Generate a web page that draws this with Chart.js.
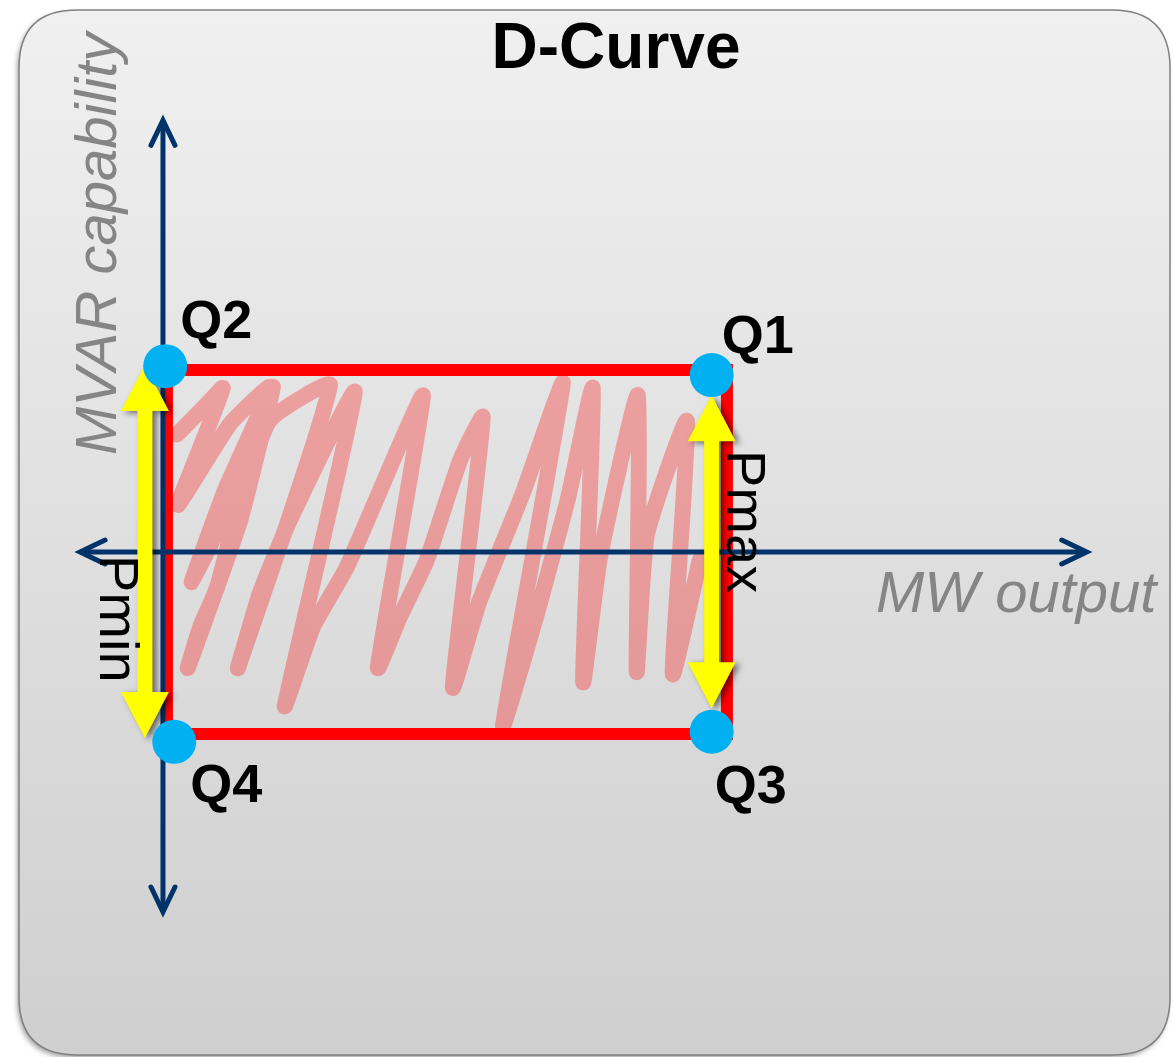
<!DOCTYPE html>
<html>
<head>
<meta charset="utf-8">
<title>D-Curve</title>
<script src="https://cdn.jsdelivr.net/npm/chart.js@4.4.1/dist/chart.umd.min.js"></script>
<style>
  html, body { margin: 0; padding: 0; background: #ffffff; }
  #wrap { width: 1173px; height: 1057px; }
</style>
</head>
<body>
<div id="wrap"><canvas id="myChart" width="1173" height="1057"></canvas></div>
<script>
// diagram values (MW on x, MVAR on y), origin at the axis crossing
const pMin = 0.07;
const pMax = 10.0;
const qMax = 3.25;
const qMin = -3.25;

const cornerLabels = ["Q1", "Q2", "Q3", "Q4"];
const cornerP = [9.73, 0.04, 9.73, 0.2];
const cornerQ = [3.16, 3.32, -3.21, -3.39];

// hand-drawn hatching inside the box
const scribbleP = [0.25, 0.75, 1.06, 0.66, 0.27, 1.19, 1.9, 1.11, 0.51, 1.38, 1.95, 1.37, 0.44,
  0.66, 0.96, 1.37, 1.9, 2.96, 1.33, 1.72, 2.25, 3.4, 2.16, 2.66, 3.26, 4.08, 4.61,
  3.81, 4.2, 4.68, 5.27, 5.67, 5.14, 5.6, 6.38, 7.09, 6.03, 6.6, 7.18, 7.62, 7.45, 7.75,
  8.42, 8.4, 8.58, 9.29, 9.04, 9.52];
const scribbleQ = [2.1, 2.61, 2.93, 1.86, 0.84, 2.29, 2.95, 1.13, -0.54, 1.28, 2.95, 0.57, -2.07,
  -1.34, -0.63, 0.93, 2.36, 2.98, -2.07, -0.73, 0.57, 2.86, -2.75, -1.34, -0.27, 1.64, 2.79,
  -2.07, -1.16, -0.14, 1.64, 2.41, -2.42, -0.91, 1.05, 3.02, -3.1, -1.21, 0.95, 2.93, -2.32, -0.09,
  2.8, -2.14, 0.3, 2.34, -2.18, -0.14];

const axisP = [-1.47, 16.38];
const axisQ = [7.71, -6.43];

const pminArrowP = -0.32;
const pminArrowQ = [3.34, -3.32];
const pmaxArrowP = 9.73;
const pmaxArrowQ = [2.8, -2.79];

const NAVY = "#00336a";
const FONT = "'Liberation Sans', Arial, sans-serif";

const pts = (xs, ys) => xs.map((x, i) => ({ x: x, y: ys[i] }));

function roundRect(ctx, x, y, w, h, r) {
  ctx.beginPath();
  ctx.moveTo(x + r, y);
  ctx.lineTo(x + w - r, y);
  ctx.quadraticCurveTo(x + w, y, x + w, y + r);
  ctx.lineTo(x + w, y + h - r);
  ctx.quadraticCurveTo(x + w, y + h, x + w - r, y + h);
  ctx.lineTo(x + r, y + h);
  ctx.quadraticCurveTo(x, y + h, x, y + h - r);
  ctx.lineTo(x, y + r);
  ctx.quadraticCurveTo(x, y, x + r, y);
  ctx.closePath();
}

function yellowArrow(ctx, px, top, bottom) {
  const head = 46, half = 24, shaft = 7.5;
  ctx.save();
  ctx.shadowColor = "rgba(0,0,0,0.55)";
  ctx.shadowBlur = 6;
  ctx.shadowOffsetX = 4;
  ctx.shadowOffsetY = 2;
  ctx.fillStyle = "#ffff00";
  ctx.beginPath();
  ctx.moveTo(px, top);
  ctx.lineTo(px + half, top + head);
  ctx.lineTo(px + shaft, top + head);
  ctx.lineTo(px + shaft, bottom - head);
  ctx.lineTo(px + half, bottom - head);
  ctx.lineTo(px, bottom);
  ctx.lineTo(px - half, bottom - head);
  ctx.lineTo(px - shaft, bottom - head);
  ctx.lineTo(px - shaft, top + head);
  ctx.lineTo(px - half, top + head);
  ctx.closePath();
  ctx.fill();
  ctx.restore();
}

function chevron(ctx, tx, ty, ax, ay, bx, by) {
  ctx.beginPath();
  ctx.moveTo(ax, ay);
  ctx.lineTo(tx, ty);
  ctx.lineTo(bx, by);
  ctx.stroke();
}

const diagramPlugin = {
  id: "diagram",
  beforeDatasetsDraw(chart) {
    const ctx = chart.ctx;
    ctx.save();
    ctx.fillStyle = "#ffffff";
    ctx.fillRect(0, 0, chart.width, chart.height);
    ctx.shadowColor = "rgba(0,0,0,0.35)";
    ctx.shadowBlur = 5;
    ctx.shadowOffsetX = -2;
    ctx.shadowOffsetY = 3;
    const g = ctx.createLinearGradient(0, 10, 0, 1055);
    g.addColorStop(0, "#f0f0f0");
    g.addColorStop(1, "#cfcfcf");
    roundRect(ctx, 19, 10, 1151, 1045, 58);
    ctx.fillStyle = g;
    ctx.fill();
    ctx.shadowColor = "transparent";
    ctx.strokeStyle = "#808080";
    ctx.lineWidth = 1.5;
    ctx.stroke();
    ctx.restore();
  },
  afterDatasetDraw(chart, args) {
    if (chart.data.datasets[args.index].label !== "Q axis") return;
    const ctx = chart.ctx;
    const xs = chart.scales.x, ys = chart.scales.y;
    const x0 = xs.getPixelForValue(0), y0 = ys.getPixelForValue(0);
    const left = xs.getPixelForValue(axisP[0]), right = xs.getPixelForValue(axisP[1]);
    const top = ys.getPixelForValue(axisQ[0]), bottom = ys.getPixelForValue(axisQ[1]);
    ctx.save();
    ctx.strokeStyle = NAVY;
    ctx.lineWidth = 5;
    ctx.lineCap = "round";
    ctx.lineJoin = "miter";
    chevron(ctx, x0, top, x0 - 12, top + 25, x0 + 12, top + 25);
    chevron(ctx, x0, bottom, x0 - 12, bottom - 25, x0 + 12, bottom - 25);
    chevron(ctx, left, y0, left + 25, y0 - 12, left + 25, y0 + 12);
    chevron(ctx, right, y0, right - 25, y0 - 12, right - 25, y0 + 12);
    ctx.restore();

    yellowArrow(ctx, xs.getPixelForValue(pminArrowP),
      ys.getPixelForValue(pminArrowQ[0]), ys.getPixelForValue(pminArrowQ[1]));
    yellowArrow(ctx, xs.getPixelForValue(pmaxArrowP),
      ys.getPixelForValue(pmaxArrowQ[0]), ys.getPixelForValue(pmaxArrowQ[1]));
  },
  afterDraw(chart) {
    const ctx = chart.ctx;
    const xs = chart.scales.x, ys = chart.scales.y;
    ctx.save();

    // title
    ctx.fillStyle = "#000000";
    ctx.textAlign = "center";
    ctx.textBaseline = "alphabetic";
    ctx.font = "bold 64px " + FONT;
    ctx.fillText("D-Curve", 616, 68);

    // corner labels
    const offsets = { Q1: [10, -22], Q2: [15, -28], Q3: [3, 71], Q4: [16, 60] };
    ctx.textAlign = "left";
    ctx.font = "bold 54px " + FONT;
    cornerLabels.forEach((lab, i) => {
      const px = xs.getPixelForValue(cornerP[i]);
      const py = ys.getPixelForValue(cornerQ[i]);
      ctx.fillText(lab, px + offsets[lab][0], py + offsets[lab][1]);
    });

    // Pmin / Pmax, rotated
    ctx.font = "56px " + FONT;
    ctx.save();
    ctx.translate(100, 555);
    ctx.rotate(Math.PI / 2);
    ctx.fillText("Pmin", 0, 0);
    ctx.restore();
    ctx.save();
    ctx.translate(727, 450);
    ctx.rotate(Math.PI / 2);
    ctx.fillText("Pmax", 0, 0);
    ctx.restore();

    // axis names
    ctx.fillStyle = "#858585";
    ctx.font = "italic 58px " + FONT;
    ctx.fillText("MW output", 876, 612);
    ctx.save();
    ctx.translate(116, 455);
    ctx.rotate(-Math.PI / 2);
    ctx.fillText("MVAR capability", 0, 0);
    ctx.restore();

    ctx.restore();
  },
};

const chartConfiguration = {
  type: "scatter",
  data: {
    datasets: [
      {
        label: "Corners",
        data: pts(cornerP, cornerQ),
        backgroundColor: "#00b0f0",
        borderWidth: 0,
        pointRadius: 22,
        order: 0,
      },
      {
        label: "Q axis",
        data: pts([0, 0], axisQ),
        showLine: true,
        borderColor: NAVY,
        borderWidth: 5,
        pointRadius: 0,
        order: 1,
      },
      {
        label: "P axis",
        data: pts(axisP, [0, 0]),
        showLine: true,
        borderColor: NAVY,
        borderWidth: 5,
        pointRadius: 0,
        order: 2,
      },
      {
        label: "Capability box",
        data: pts([pMin, pMax, pMax, pMin, pMin], [qMax, qMax, qMin, qMin, qMax]),
        showLine: true,
        borderColor: "#ff0000",
        borderWidth: 12,
        borderJoinStyle: "miter",
        pointRadius: 0,
        order: 3,
      },
      {
        label: "Hatching",
        data: pts(scribbleP, scribbleQ),
        showLine: true,
        borderColor: "rgba(255, 0, 0, 0.3)",
        borderWidth: 16,
        borderCapStyle: "round",
        borderJoinStyle: "round",
        tension: 0.15,
        pointRadius: 0,
        order: 4,
      },
    ],
  },
  options: {
    responsive: false,
    animation: false,
    events: [],
    layout: { padding: 0, autoPadding: false },
    plugins: {
      legend: { display: false },
      title: { display: false },
      tooltip: { enabled: false },
    },
    scales: {
      x: { type: "linear", min: -2.89, max: 17.91, display: false },
      y: { type: "linear", min: -9.02, max: 9.86, display: false },
    },
  },
  plugins: [diagramPlugin],
};

const ctx = document.getElementById("myChart").getContext("2d");
new Chart(ctx, chartConfiguration);
</script>
</body>
</html>
